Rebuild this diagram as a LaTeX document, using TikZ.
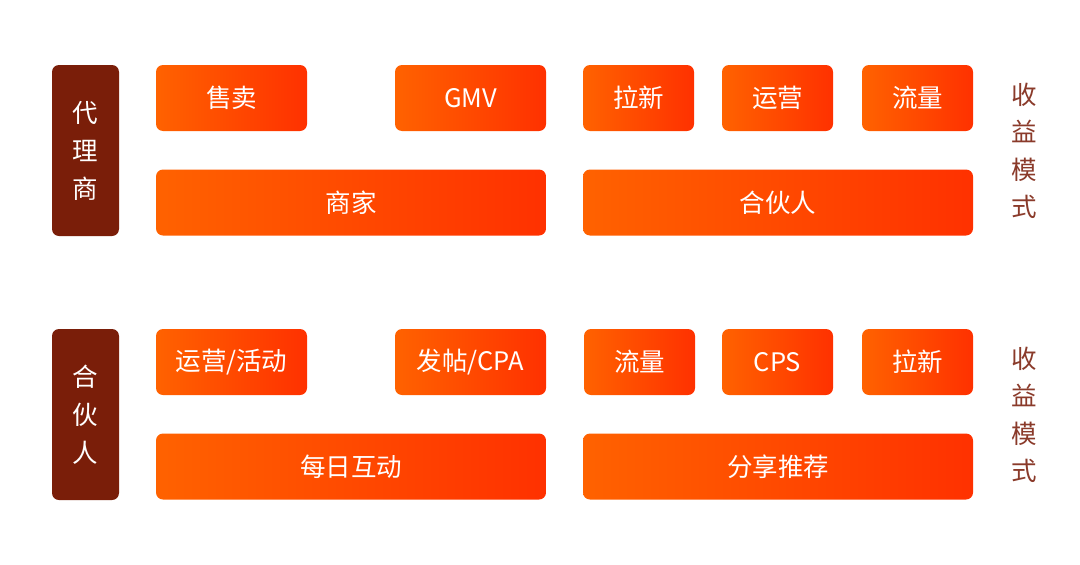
\documentclass[tikz,border=0pt]{standalone}
\usepackage{fontspec}
\setmainfont{Noto Sans CJK SC}
\usetikzlibrary{positioning}

\definecolor{tileL}{HTML}{FF6200}
\definecolor{tileR}{HTML}{FF3100}
\definecolor{sidebrown}{HTML}{7A1E09}
\definecolor{modetext}{HTML}{8A3A2A}

\begin{document}
\begin{tikzpicture}[
    x=1pt, y=-1pt,
    tile/.style={rectangle, rounded corners=7pt, left color=tileL, right color=tileR, draw=none, text=white, inner sep=0pt, minimum height=66pt, font=\fontsize{25.5}{28}\selectfont},
    small/.style={tile, minimum width=111pt},
    mid/.style={tile, minimum width=151pt},
    wide/.style={tile, minimum width=390pt},
    role/.style={rectangle, rounded corners=7pt, fill=sidebrown, text=white, inner sep=0pt, minimum width=67pt, minimum height=171pt, align=center, font=\fontsize{25.5}{38}\selectfont},
    mode/.style={text=modetext, align=center, inner sep=0pt, font=\fontsize{25.5}{37.5}\selectfont}
]
\useasboundingbox (0,0) rectangle (1080,565);

% Agent block
\node[role] (agent) at (85.5,150.5) {代\\理\\商};
\node[mid] (sell) at (231.5,98) {售卖};
\node[mid] (gmv) at (470.5,98) {GMV};
\node[small] (newA) at (638.5,98) {拉新};
\node[small] (opsA) at (777.5,98) {运营};
\node[small] (flowA) at (917.5,98) {流量};
\node[wide] (merchant) at (351,202.5) {商家};
\node[wide] (partnerA) at (778,202.5) {合伙人};
\node[mode] (modeA) at (1024,151) {收\\益\\模\\式};

% Partner block
\node[role] (partner) at (85.5,414.5) {合\\伙\\人};
\node[mid] (ops) at (231.5,362) {运营/活动};
\node[mid] (post) at (470.5,362) {发帖/CPA};
\node[small] (flowB) at (639.5,362) {流量};
\node[small] (cps) at (777.5,362) {CPS};
\node[small] (newB) at (917.5,362) {拉新};
\node[wide] (daily) at (351,466.5) {每日互动};
\node[wide] (share) at (778,466.5) {分享推荐};
\node[mode] (modeB) at (1024,415) {收\\益\\模\\式};

\end{tikzpicture}
\end{document}
